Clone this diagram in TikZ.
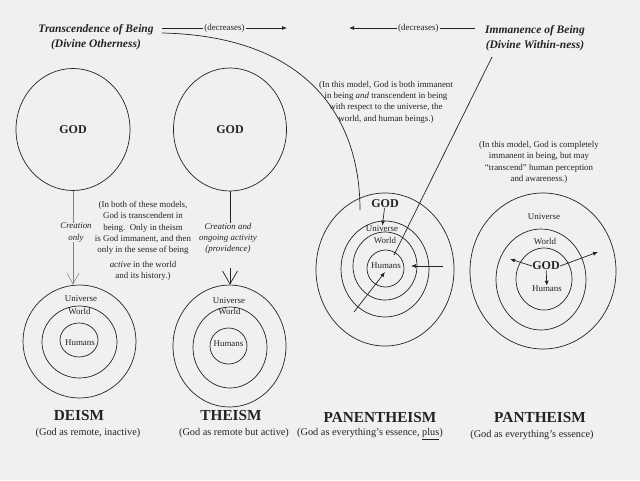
\documentclass[tikz,border=0pt]{standalone}
\usepackage{fontspec}
\setmainfont{Liberation Serif}
\usetikzlibrary{shapes.geometric,arrows.meta}

\definecolor{paper}{RGB}{240,240,238}
\definecolor{ink}{RGB}{35,35,35}

\tikzset{
  ring/.style 2 args={draw=ink, ellipse, inner sep=0pt, minimum width=#1pt, minimum height=#2pt},
  small/.style={font=\fontsize{8.9}{11.3}\selectfont, text=ink, inner sep=0pt, align=center},
  ital/.style={font=\fontsize{8.9}{11.3}\selectfont\itshape},
  god/.style={font=\fontsize{12}{14}\selectfont\bfseries, text=ink, inner sep=0pt},
  ismname/.style={font=\fontsize{15.3}{18}\selectfont\bfseries, text=ink, inner sep=0pt},
  ismsub/.style={font=\fontsize{10.3}{12}\selectfont, text=ink, inner sep=0pt},
  heading/.style={font=\fontsize{11.5}{15}\selectfont\bfseries\itshape, text=ink, align=center, inner sep=0pt},
  decr/.style={font=\fontsize{9}{10}\selectfont, text=ink, fill=paper, inner sep=1.5pt},
  fillarrow/.style={-{Latex[length=5pt,width=4pt]}},
}

\begin{document}
\begin{tikzpicture}[x=1pt, y=-1pt, line width=0.7pt, color=ink]

% paper
\fill[paper] (0,0) rectangle (640,480);

% headings
\node[heading] (transc) at (96,37.5) {Transcendence of Being\\(Divine Otherness)};
\node[heading] (immanence) at (535,38.5) {Immanence of Being\\(Divine Within-ness)};

% "decreases" arrows
\coordinate (transcR) at (162,28);
\coordinate (transcTip) at (287,28);
\draw[fillarrow] (transcR) -- node[decr] {(decreases)} (transcTip);
\coordinate (immL) at (475,28);
\coordinate (immTip) at (349,28);
\draw[fillarrow] (immL) -- node[decr, pos=0.45] {(decreases)} (immTip);

% curve and line into panentheism
\coordinate (curveStart) at (162,33);
\coordinate (curveEnd) at (360,210);
\draw (curveStart) .. controls (305,36) and (360,115) .. (curveEnd);
\coordinate (lineStart) at (492,57);
\coordinate (lineEnd) at (394,255);
\draw (lineStart) -- (lineEnd);

% Deism
\node[ring={114}{122}, god] (deiGod) at (73,129.5) {GOD};
\node[ring={113}{113}] (deiUni) at (79.5,341.5) {};
\node[ring={75}{72}] (deiWor) at (79.5,342) {};
\node[ring={38}{34}] (deiHum) at (79,340) {};
\node[small] (deiUniL) at (81,299) {Universe};
\node[small] (deiWorL) at (79.5,311) {World};
\node[small] (deiHumL) at (80,343) {Humans};
\node[small, ital] (deiCre) at (76,232.5) {Creation\\only};
\draw[gray, line width=0.5pt] (deiGod.south) -- (deiGod.south |- deiCre.north);
\draw[gray, line width=0.5pt, -{Straight Barb[length=11pt,width=12pt]}] (deiGod.south |- deiCre.south) -- (deiGod.south |- deiUni.north);
\node[ismname] (deism) at (79,416) {DEISM};
\node[ismsub] (deismSub) at (88,433) {(God as remote, inactive)};

% note on deism and theism
\node[small] (bothNote) at (143,241) {(In both of these models,\\God is transcendent in\\being.\ \ Only in theism\\is God immanent, and then\\only in the sense of being\\[3.5pt]\textit{active} in the world\\and its history.)};

% Theism
\node[ring={113}{123}, god] (thGod) at (230,129.5) {GOD};
\node[ring={113}{122}] (thUni) at (229.5,346) {};
\node[ring={74}{81}] (thWor) at (230,347.5) {};
\node[ring={37}{36}] (thHum) at (228.5,346) {};
\node[small] (thUniL) at (229,301) {Universe};
\node[small] (thWorL) at (229.5,311) {World};
\node[small] (thHumL) at (228.5,344) {Humans};
\node[small, ital] (thCre) at (228,238.5) {Creation and\\ongoing activity\\(providence)};
\draw (thGod.south) -- (thGod.south |- thCre.north);
\coordinate (thArr) at (230,268);
\draw[-{Straight Barb[length=13pt,width=15pt]}] (thArr) -- (thGod.south |- thUni.north);
\node[ismname] (theism) at (231,416) {THEISM};
\node[ismsub] (theismSub) at (234,433) {(God as remote but active)};

% Panentheism
\node[small] (panNote) at (386,102) {(In this model, God is both immanent\\in being \textit{and} transcendent in being\\with respect to the universe, the\\world, and human beings.)};
\node[ring={138}{153}] (panOut) at (385,269.5) {};
\node[ring={88}{96}] (panUni) at (385,269) {};
\node[ring={64}{68}] (panWor) at (385,266) {};
\node[ring={37}{37}] (panHum) at (385.5,268.5) {};
\node[god] (panGod) at (385,204) {GOD};
\node[small] (panUniL) at (382,229) {Universe};
\node[small] (panWorL) at (385,240) {World};
\node[small] (panHumL) at (386,266) {Humans};
\draw[fillarrow] (panGod) -- (panUniL);
\coordinate (panRin) at (443,266);
\coordinate (panRtip) at (411,266);
\draw[fillarrow] (panRin) -- (panRtip);
\coordinate (panLin) at (354,312);
\coordinate (panLtip) at (385,272);
\draw[fillarrow] (panLin) -- (panLtip);
\node[ismname] (panen) at (380,418) {PANENTHEISM};
\node[ismsub] (panenSub) at (370,434) {(God as everything’s essence, \underline{plus})};

% Pantheism
\node[small] (panthNote) at (539,162.5) {(In this model, God is completely\\immanent in being, but may\\“transcend” human perception\\and awareness.)};
\node[ring={146}{156}] (ptOut) at (543,271) {};
\node[ring={90}{101}] (ptWor) at (541,279.5) {};
\node[ring={56}{62}] (ptHum) at (544,279) {};
\node[small] (ptUniL) at (544,217) {Universe};
\node[small] (ptWorL) at (545,241) {World};
\node[god] (ptGod) at (546,266) {GOD};
\node[small] (ptHumL) at (547,289) {Humans};
\draw[fillarrow] (ptGod) -- (ptHumL);
\coordinate (ptLtip) at (510,259);
\coordinate (ptRtip) at (598,252);
\draw[fillarrow] (ptGod.west) -- (ptLtip);
\draw[fillarrow] (ptGod.east) -- (ptRtip);
\node[ismname] (panth) at (540,418) {PANTHEISM};
\node[ismsub] (panthSub) at (532,435) {(God as everything’s essence)};

\end{tikzpicture}
\end{document}
